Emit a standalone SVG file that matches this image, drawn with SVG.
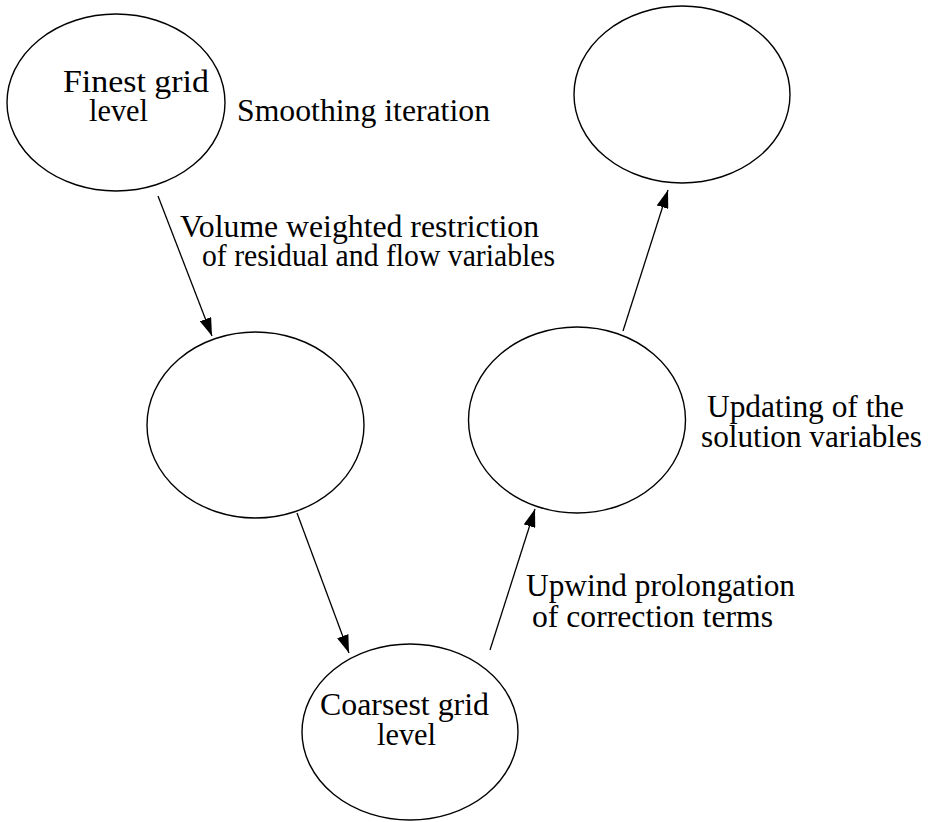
<svg xmlns="http://www.w3.org/2000/svg" width="928" height="822" viewBox="0 0 928 822">
  <style>
    .node { fill: none; stroke: #000; stroke-width: 1.4; }
    .edge { fill: none; stroke: #000; stroke-width: 1.3; marker-end: url(#arrow); }
    .t { font-family: 'Liberation Serif', 'Times New Roman', serif; font-size: 31px; fill: #000; }
  </style>
  <defs>
    <marker id="arrow" markerUnits="userSpaceOnUse" markerWidth="18" markerHeight="12" refX="18" refY="6" orient="auto">
      <path d="M0,0 L18,6 L0,12 z" fill="#000"/>
    </marker>
  </defs>

  <rect width="928" height="822" fill="#fff"/>

  <!-- connectors -->
  <g id="connectors">
    <line class="edge" x1="158" y1="196" x2="212" y2="336"/>
    <line class="edge" x1="297" y1="513" x2="349" y2="653"/>
    <line class="edge" x1="490" y1="650" x2="535" y2="509"/>
    <line class="edge" x1="623" y1="331" x2="668" y2="190"/>
  </g>

  <!-- grid levels -->
  <g id="finest">
    <ellipse class="node" cx="116" cy="102.5" rx="109" ry="88.5"/>
    <text class="t" x="63" y="92" textLength="146" lengthAdjust="spacingAndGlyphs">Finest grid</text>
    <text class="t" x="89" y="121" textLength="59" lengthAdjust="spacingAndGlyphs">level</text>
  </g>
  <g id="fine-up">
    <ellipse class="node" cx="682" cy="94.5" rx="108" ry="88.5"/>
  </g>
  <g id="mid-down">
    <ellipse class="node" cx="255.5" cy="425" rx="108.5" ry="93"/>
  </g>
  <g id="mid-up">
    <ellipse class="node" cx="577" cy="420" rx="108.5" ry="93"/>
  </g>
  <g id="coarsest">
    <ellipse class="node" cx="410" cy="732" rx="108" ry="88"/>
    <text class="t" x="320" y="715" textLength="169" lengthAdjust="spacingAndGlyphs">Coarsest grid</text>
    <text class="t" x="377" y="745" textLength="59" lengthAdjust="spacingAndGlyphs">level</text>
  </g>

  <!-- step labels -->
  <g id="labels" class="t">
    <text x="237" y="121" textLength="253" lengthAdjust="spacingAndGlyphs">Smoothing iteration</text>
    <text x="180" y="237" textLength="359" lengthAdjust="spacingAndGlyphs">Volume weighted restriction</text>
    <text x="202" y="266" textLength="353" lengthAdjust="spacingAndGlyphs">of residual and flow variables</text>
    <text x="707" y="417" textLength="197" lengthAdjust="spacingAndGlyphs">Updating of the</text>
    <text x="701" y="447" textLength="221" lengthAdjust="spacingAndGlyphs">solution variables</text>
    <text x="526" y="596" textLength="269" lengthAdjust="spacingAndGlyphs">Upwind prolongation</text>
    <text x="532" y="627" textLength="241" lengthAdjust="spacingAndGlyphs">of correction terms</text>
  </g>
</svg>
